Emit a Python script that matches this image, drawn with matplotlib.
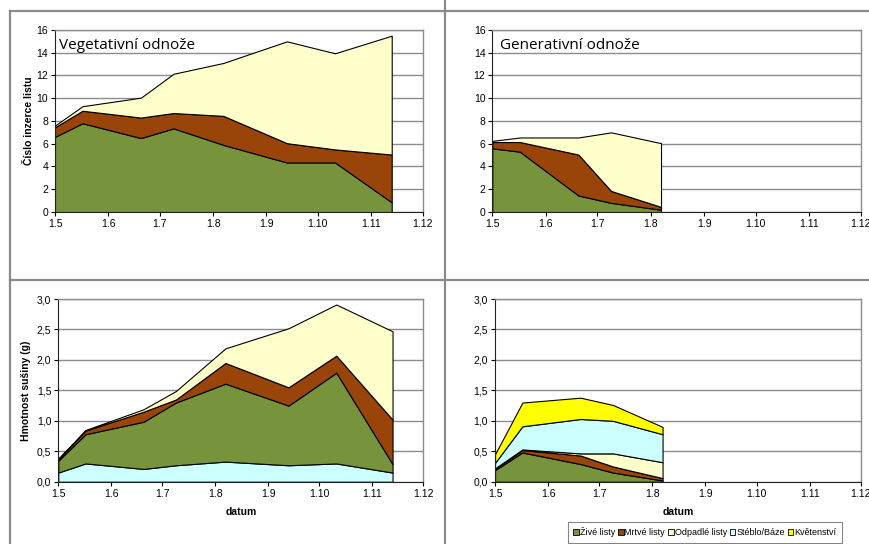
import numpy as np
import pandas as pd
import matplotlib
matplotlib.use("Agg")
import matplotlib.pyplot as plt
import matplotlib.dates as mdates
from matplotlib.patches import Patch
from matplotlib.lines import Line2D
from matplotlib.ticker import MultipleLocator, FuncFormatter

plt.rcParams['font.family'] = ['Liberation Sans', 'DejaVu Sans']

# sampling dates (vegetative tillers sampled all season, generative only until August)
dates_veg = ['05-01', '05-17', '06-20', '07-09', '08-07', '09-13', '10-11', '11-13']
dates_gen = dates_veg[:5]

# leaf insertion numbers - vegetative tillers
ziv_veg = [6.6, 7.8, 6.5, 7.35, 5.9, 4.35, 4.35, 0.85]
mrt_veg = [0.85, 1.1, 1.8, 1.35, 2.55, 1.7, 1.15, 4.2]
odp_veg = [0.15, 0.4, 1.75, 3.45, 4.65, 8.95, 8.45, 10.45]

# leaf insertion numbers - generative tillers
ziv_gen = [5.6, 5.3, 1.45, 0.8, 0.2]
mrt_gen = [0.55, 0.85, 3.6, 1.05, 0.25]
odp_gen = [0.1, 0.4, 1.5, 5.15, 5.6]

# dry mass (g) - vegetative tillers
steblo_veg_m = [0.15, 0.30, 0.21, 0.27, 0.33, 0.27, 0.30, 0.15]
ziv_veg_m = [0.195, 0.48, 0.775, 1.03, 1.28, 0.98, 1.49, 0.14]
mrt_veg_m = [0.025, 0.06, 0.165, 0.05, 0.34, 0.30, 0.28, 0.73]
odp_veg_m = [0.01, 0.01, 0.04, 0.14, 0.24, 0.97, 0.84, 1.45]

# dry mass (g) - generative tillers
ziv_gen_m = [0.19, 0.48, 0.29, 0.15, 0.02]
mrt_gen_m = [0.02, 0.04, 0.14, 0.10, 0.04]
odp_gen_m = [0.01, 0.01, 0.035, 0.215, 0.26]
steblo_gen_m = [0.09, 0.38, 0.565, 0.535, 0.46]
kvet_gen_m = [0.14, 0.39, 0.35, 0.26, 0.12]

series_names = ['Živé listy', 'Mrtvé listy', 'Odpadlé listy', 'Stéblo/Báze', 'Květenství']
C_ZIV = '#77933c'
C_MRT = '#994408'
C_ODP = '#ffffcc'
C_STB = '#ccffff'
C_KVT = '#ffff00'
series_colors = [C_ZIV, C_MRT, C_ODP, C_STB, C_KVT]

YEAR = '2009-'
GRID = '#8c8c8c'


def to_dates(days):
    return pd.to_datetime([YEAR + d for d in days])


def day_month(v, pos):
    d = mdates.num2date(v)
    return '%d.%d' % (d.day, d.month)


def style_axes(ax, ymax, ystep, comma=False):
    ax.set_xlim(pd.Timestamp(YEAR + '05-01'), pd.Timestamp(YEAR + '12-01'))
    ax.set_ylim(0, ymax)
    ax.xaxis.set_major_locator(mdates.MonthLocator())
    ax.xaxis.set_major_formatter(FuncFormatter(day_month))
    ax.yaxis.set_major_locator(MultipleLocator(ystep))
    if comma:
        ax.yaxis.set_major_formatter(FuncFormatter(lambda v, pos: ('%.1f' % v).replace('.', ',')))
    ax.grid(axis='y', color=GRID, linewidth=1.0)
    ax.set_axisbelow(True)
    ax.tick_params(labelsize=7.5, length=3, width=0.8, pad=2)
    for side in ('top', 'right'):
        ax.spines[side].set_color(GRID)
        ax.spines[side].set_linewidth(1.0)
    for side in ('left', 'bottom'):
        ax.spines[side].set_color('#222222')
        ax.spines[side].set_linewidth(0.8)


def stack(ax, x, layers, colors):
    polys = ax.stackplot(x, *layers, colors=colors, edgecolor='black', linewidth=0.8)
    for p in polys:
        p.set_zorder(2)


fig = plt.figure(figsize=(8.7, 5.44), dpi=100)

# frame lines between the four charts
for xs, ys in [((10, 870), (11, 11)), ((10, 870), (280, 280)),
               ((10, 10), (11, 544)), ((445, 445), (0, 544))]:
    fig.add_artist(Line2D([x / 870 for x in xs], [1 - y / 544 for y in ys],
                          color='#8a8a8a', linewidth=1.6))

ax_tl = fig.add_axes([0.0632, 0.6103, 0.4226, 0.3346])
ax_tr = fig.add_axes([0.5659, 0.6103, 0.4234, 0.3346])
ax_bl = fig.add_axes([0.0670, 0.1145, 0.4195, 0.3358])
ax_br = fig.add_axes([0.5690, 0.1145, 0.4205, 0.3358])

xv = to_dates(dates_veg)
xg = to_dates(dates_gen)

stack(ax_tl, xv, [ziv_veg, mrt_veg, odp_veg], [C_ZIV, C_MRT, C_ODP])
stack(ax_tr, xg, [ziv_gen, mrt_gen, odp_gen], [C_ZIV, C_MRT, C_ODP])
stack(ax_bl, xv, [steblo_veg_m, ziv_veg_m, mrt_veg_m, odp_veg_m], [C_STB, C_ZIV, C_MRT, C_ODP])
stack(ax_br, xg, [ziv_gen_m, mrt_gen_m, odp_gen_m, steblo_gen_m, kvet_gen_m],
      [C_ZIV, C_MRT, C_ODP, C_STB, C_KVT])

for ax in (ax_tl, ax_tr):
    style_axes(ax, 16, 2)
for ax in (ax_bl, ax_br):
    style_axes(ax, 3.0, 0.5, comma=True)

ax_tl.text(0.012, 0.955, 'Vegetativní odnože', transform=ax_tl.transAxes,
           family='Open Sans', fontsize=11, va='top', ha='left', zorder=5)
ax_tr.text(0.02, 0.955, 'Generativní odnože', transform=ax_tr.transAxes,
           family='Open Sans', fontsize=11, va='top', ha='left', zorder=5)

ax_tl.set_ylabel('Číslo inzerce listu', fontsize=7.5, fontweight='bold', labelpad=2)
ax_bl.set_ylabel('Hmotnost sušiny (g)', fontsize=7.5, fontweight='bold', labelpad=4)
for ax in (ax_bl, ax_br):
    ax.set_xlabel('datum', fontsize=7.5, fontweight='bold', labelpad=6)

handles = [Patch(facecolor=c, edgecolor='black', linewidth=0.6) for c in series_colors]
leg = fig.legend(handles, series_names, loc='upper left', bbox_to_anchor=(568 / 870, 1 - 522 / 544),
                 ncol=5, fontsize=6.5, frameon=True, fancybox=False, handlelength=0.6,
                 handleheight=0.6, handletextpad=0.1, columnspacing=0.35, borderpad=0.6,
                 borderaxespad=0)
leg.get_frame().set_edgecolor('#666666')
leg.get_frame().set_linewidth(0.8)

fig.savefig('out.png', dpi=100)
